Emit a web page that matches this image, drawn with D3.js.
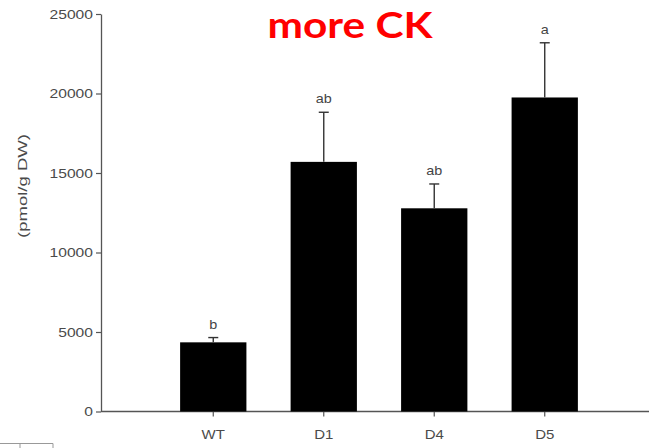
<!DOCTYPE html>
<html>
<head>
<meta charset="utf-8">
<script src="https://cdn.jsdelivr.net/npm/d3@7"></script>
<style>
  html, body { margin: 0; padding: 0; background: #fff; }
  svg { display: block; }
  .axis text { font-family: "Liberation Sans", Arial, sans-serif; fill: #4a4a4a; }
  .axis path, .axis line { stroke: #555; }
</style>
</head>
<body>
<svg id="chart" width="654" height="448"></svg>
<script>
// Datos
var categories = ["WT", "D1", "D4", "D5"];
var means = [4350, 15700, 12780, 19750];
var errors = [300, 3120, 1530, 3440];
var letters = ["b", "ab", "ab", "a"];
var yTicks = [0, 5000, 10000, 15000, 20000, 25000];

var svg = d3.select("#chart");

// Escalas
var y = d3.scaleLinear().domain([0, 25000]).range([411.5, 14]);
var x = d3.scaleBand().domain(categories).range([102, 656])
  .paddingInner(0.4).paddingOuter(0.707);

// Eje Y
var yAxis = svg.append("g")
  .attr("class", "axis y")
  .attr("transform", "translate(101,0)")
  .call(d3.axisLeft(y).tickValues(yTicks).tickFormat(d3.format("d"))
    .tickSize(5).tickPadding(3).tickSizeOuter(0));
yAxis.select(".domain").attr("stroke-width", 1.3);
yAxis.selectAll(".tick line").attr("stroke-width", 1.2);
yAxis.selectAll("text")
  .style("font-size", "12.5px")
  .style("transform-box", "fill-box")
  .style("transform-origin", "right center")
  .style("transform", "scaleX(1.25)");

// Eje X
var xAxis = svg.append("g")
  .attr("class", "axis x")
  .attr("transform", "translate(0," + y(0) + ")")
  .call(d3.axisBottom(x).tickSize(5).tickPadding(14).tickSizeOuter(0));
xAxis.select(".domain").remove();
xAxis.append("line")
  .attr("x1", 101).attr("x2", 649)
  .attr("stroke", "#555").attr("stroke-width", 1.3);
xAxis.selectAll(".tick line").attr("stroke-width", 1.2);
xAxis.selectAll("text")
  .style("font-size", "12.5px")
  .style("transform-box", "fill-box")
  .style("transform-origin", "center")
  .style("transform", "scaleX(1.2)");

// Barras
svg.selectAll(".bar")
  .data(categories)
  .enter()
  .append("rect")
  .attr("class", "bar")
  .attr("x", function (d) { return x(d); })
  .attr("width", x.bandwidth())
  .attr("y", function (d, i) { return y(means[i]); })
  .attr("height", function (d, i) { return y(0) - y(means[i]); })
  .attr("fill", "#000");

// Barras de error
var err = svg.selectAll(".err")
  .data(categories)
  .enter()
  .append("g")
  .attr("class", "err")
  .attr("stroke", "#333")
  .attr("stroke-width", 1.4);

err.append("line")
  .attr("x1", function (d) { return x(d) + x.bandwidth() / 2; })
  .attr("x2", function (d) { return x(d) + x.bandwidth() / 2; })
  .attr("y1", function (d, i) { return y(means[i]); })
  .attr("y2", function (d, i) { return y(means[i] + errors[i]); });

err.append("line")
  .attr("x1", function (d) { return x(d) + x.bandwidth() / 2 - 5; })
  .attr("x2", function (d) { return x(d) + x.bandwidth() / 2 + 5; })
  .attr("y1", function (d, i) { return y(means[i] + errors[i]); })
  .attr("y2", function (d, i) { return y(means[i] + errors[i]); });

// Letras de significancia
svg.selectAll(".sig")
  .data(categories)
  .enter()
  .append("text")
  .attr("class", "sig")
  .attr("x", function (d) { return x(d) + x.bandwidth() / 2; })
  .attr("y", function (d, i) { return y(means[i] + errors[i]) - 9; })
  .attr("text-anchor", "middle")
  .style("font-family", "'Liberation Sans', Arial, sans-serif")
  .style("font-size", "12px")
  .style("fill", "#444")
  .style("transform-box", "fill-box")
  .style("transform-origin", "center")
  .style("transform", "scaleX(1.2)")
  .text(function (d, i) { return letters[i]; });

// Titulo eje Y
svg.append("text")
  .attr("transform", "translate(27,186) rotate(-90)")
  .attr("text-anchor", "middle")
  .attr("textLength", 104)
  .attr("lengthAdjust", "spacingAndGlyphs")
  .style("font-family", "'Liberation Sans', Arial, sans-serif")
  .style("font-size", "13px")
  .style("fill", "#4a4a4a")
  .text("(pmol/g DW)");

// Titulo rojo
svg.append("text")
  .attr("x", 350)
  .attr("y", 38)
  .attr("text-anchor", "middle")
  .attr("textLength", 165)
  .attr("lengthAdjust", "spacingAndGlyphs")
  .style("font-family", "Lato, sans-serif")
  .style("font-weight", "bold")
  .style("font-size", "37px")
  .style("fill", "#ff0000")
  .text("more CK");

// Resto de recorte abajo a la izquierda
svg.append("path")
  .attr("d", "M0,443.5H53V448M20,443.5V448")
  .attr("fill", "none")
  .attr("stroke", "#999")
  .attr("stroke-width", 1);
</script>
</body>
</html>
